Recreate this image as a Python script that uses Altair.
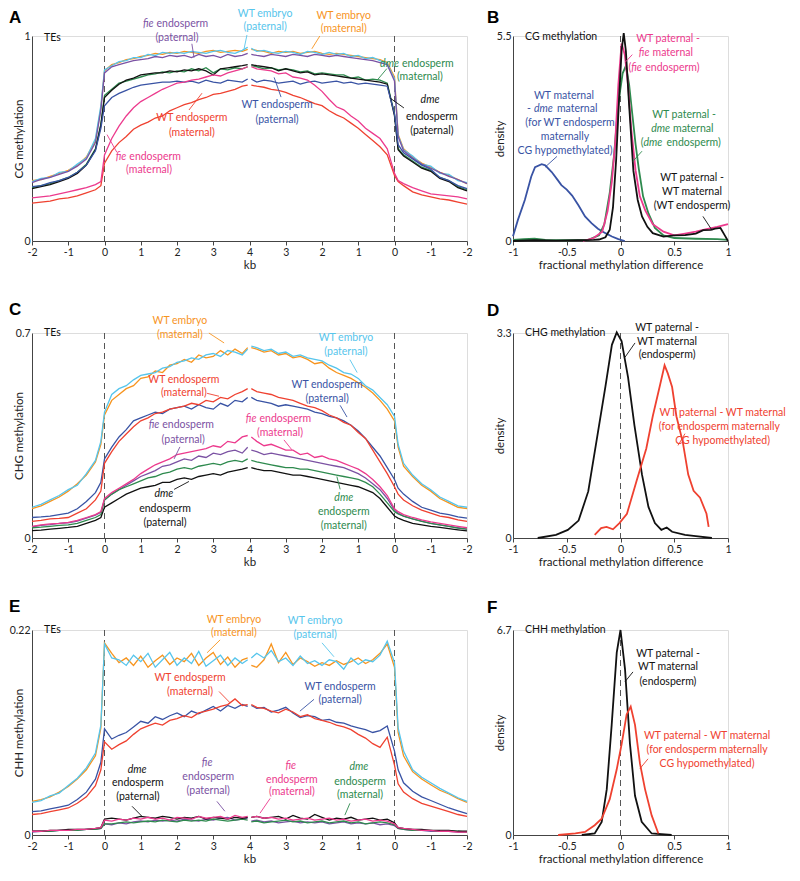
import altair as alt
import pandas as pd

FONT = "Lato"
FS = 10.5

# ---------------- x grid of the metaplots (kb), same for 5' half and 3' half ----------------
XS = [-2, -1.75, -1.5, -1.25, -1, -0.75, -0.5, -0.25, -0.1, 0, 0.2, 0.4, 0.6, 0.8, 1.0, 1.2, 1.4,
      1.6, 1.8, 2.0, 2.2, 2.4, 2.6, 2.8, 3.0, 3.2, 3.4, 3.6, 3.8, 3.95]
POS_TICKS = list(range(13))
TICK_LABELS = ["-2", "-1", "0", "1", "2", "3", "4", "3", "2", "1", "0", "-1", "-2"]
DENS_TICKS = [-1, -0.5, 0, 0.5, 1]

SERIES = ["WT embryo (maternal)", "WT embryo (paternal)", "fie endosperm (paternal)",
          "dme endosperm (maternal)", "dme endosperm (paternal)", "WT endosperm (paternal)",
          "WT endosperm (maternal)", "fie endosperm (maternal)"]
ORANGE = "#F7941E"
LBLUE = "#56C5EC"
PURPLE = "#7B52A3"
GREEN = "#2E8A4E"
BLACK = "#111111"
BLUE = "#3953A4"
RED = "#EF4130"
PINK = "#EC3A8D"
COLORS = [ORANGE, LBLUE, PURPLE, GREEN, BLACK, BLUE, RED, PINK]

# ---------------- A: CG methylation ----------------
CG_EMB_MAT_L = [0.295,0.30,0.315,0.33,0.345,0.37,0.41,0.49,0.65,0.83,0.86,0.87,0.885,0.89,0.90,0.905,0.915,0.91,0.92,0.915,0.925,0.92,0.915,0.925,0.93,0.92,0.925,0.93,0.925,0.935]
CG_EMB_PAT_L = [0.29,0.305,0.31,0.335,0.34,0.375,0.405,0.50,0.66,0.835,0.855,0.875,0.88,0.895,0.895,0.91,0.905,0.92,0.915,0.92,0.915,0.925,0.92,0.915,0.925,0.93,0.92,0.915,0.93,0.945]
CG_FIE_PAT_L = [0.285,0.30,0.31,0.325,0.34,0.365,0.40,0.48,0.64,0.82,0.85,0.86,0.87,0.88,0.885,0.89,0.90,0.895,0.905,0.90,0.905,0.895,0.91,0.90,0.905,0.895,0.91,0.90,0.905,0.915]
CG_DME_MAT_L = [0.26,0.27,0.28,0.295,0.31,0.335,0.375,0.45,0.57,0.71,0.74,0.77,0.78,0.79,0.80,0.81,0.815,0.825,0.82,0.83,0.825,0.84,0.83,0.845,0.82,0.84,0.835,0.845,0.84,0.85]
CG_DME_PAT_L = [0.255,0.265,0.275,0.29,0.305,0.33,0.37,0.445,0.565,0.70,0.735,0.765,0.785,0.795,0.81,0.815,0.82,0.82,0.83,0.825,0.835,0.83,0.84,0.83,0.81,0.84,0.845,0.85,0.855,0.86]
CG_END_PAT_L = [0.265,0.27,0.285,0.295,0.31,0.335,0.37,0.44,0.55,0.66,0.70,0.72,0.735,0.75,0.76,0.765,0.77,0.775,0.775,0.78,0.775,0.78,0.77,0.785,0.775,0.77,0.785,0.78,0.775,0.79]
CG_END_MAT_L = [0.185,0.19,0.195,0.205,0.21,0.22,0.235,0.25,0.27,0.38,0.44,0.48,0.51,0.545,0.565,0.58,0.60,0.61,0.635,0.65,0.665,0.675,0.69,0.70,0.715,0.72,0.73,0.74,0.755,0.76]
CG_FIE_MAT_L = [0.21,0.215,0.22,0.23,0.24,0.25,0.26,0.275,0.29,0.42,0.50,0.56,0.61,0.65,0.68,0.70,0.72,0.74,0.755,0.77,0.775,0.785,0.79,0.80,0.81,0.805,0.82,0.83,0.84,0.85]

CG_EMB_MAT_R = [0.28,0.30,0.32,0.335,0.36,0.38,0.41,0.45,0.52,0.80,0.87,0.885,0.89,0.895,0.90,0.905,0.91,0.915,0.91,0.915,0.925,0.92,0.915,0.925,0.92,0.925,0.915,0.925,0.93,0.935]
CG_EMB_PAT_R = [0.285,0.295,0.325,0.33,0.365,0.375,0.415,0.445,0.515,0.79,0.865,0.88,0.895,0.89,0.905,0.90,0.915,0.91,0.92,0.91,0.92,0.925,0.91,0.92,0.925,0.915,0.92,0.93,0.925,0.94]
CG_FIE_PAT_R = [0.28,0.30,0.315,0.335,0.355,0.375,0.405,0.44,0.51,0.78,0.86,0.87,0.88,0.885,0.89,0.895,0.90,0.905,0.90,0.905,0.91,0.90,0.905,0.91,0.90,0.905,0.91,0.90,0.905,0.91]
CG_DME_MAT_R = [0.25,0.265,0.295,0.31,0.345,0.36,0.39,0.42,0.45,0.62,0.77,0.785,0.79,0.785,0.80,0.795,0.81,0.81,0.815,0.82,0.815,0.83,0.825,0.835,0.84,0.835,0.845,0.84,0.85,0.855]
CG_DME_PAT_R = [0.245,0.26,0.29,0.305,0.34,0.355,0.385,0.415,0.445,0.61,0.765,0.775,0.78,0.785,0.79,0.795,0.80,0.805,0.81,0.815,0.81,0.825,0.82,0.83,0.84,0.83,0.845,0.85,0.855,0.86]
CG_END_PAT_R = [0.255,0.27,0.295,0.31,0.35,0.37,0.40,0.43,0.47,0.62,0.755,0.76,0.765,0.77,0.765,0.775,0.77,0.78,0.775,0.77,0.78,0.775,0.765,0.78,0.775,0.77,0.78,0.785,0.775,0.79]
CG_END_MAT_R = [0.18,0.19,0.20,0.205,0.215,0.225,0.24,0.27,0.29,0.32,0.42,0.46,0.49,0.52,0.55,0.575,0.60,0.615,0.635,0.66,0.67,0.685,0.70,0.71,0.725,0.735,0.74,0.75,0.755,0.76]
CG_FIE_MAT_R = [0.205,0.215,0.22,0.225,0.23,0.245,0.26,0.28,0.295,0.33,0.45,0.50,0.525,0.55,0.585,0.61,0.64,0.655,0.69,0.73,0.76,0.785,0.795,0.80,0.82,0.815,0.83,0.835,0.84,0.85]

# ---------------- C: CHG methylation ----------------
CHG_EMB_MAT_L = [0.10,0.11,0.125,0.14,0.16,0.185,0.215,0.26,0.32,0.42,0.47,0.49,0.51,0.52,0.545,0.55,0.57,0.565,0.59,0.595,0.61,0.60,0.625,0.615,0.62,0.64,0.625,0.645,0.63,0.65]
CHG_EMB_PAT_L = [0.105,0.115,0.13,0.145,0.165,0.18,0.22,0.265,0.33,0.43,0.49,0.51,0.52,0.54,0.555,0.56,0.565,0.58,0.585,0.60,0.605,0.615,0.61,0.625,0.63,0.62,0.64,0.635,0.625,0.645]
CHG_FIE_PAT_L = [0.038,0.043,0.046,0.05,0.052,0.058,0.068,0.078,0.088,0.13,0.15,0.165,0.18,0.195,0.21,0.22,0.23,0.245,0.25,0.26,0.27,0.265,0.28,0.275,0.29,0.285,0.295,0.30,0.29,0.31]
CHG_DME_MAT_L = [0.035,0.037,0.04,0.043,0.045,0.05,0.06,0.07,0.08,0.13,0.15,0.165,0.175,0.185,0.195,0.205,0.21,0.22,0.225,0.235,0.24,0.235,0.245,0.25,0.255,0.25,0.26,0.265,0.26,0.27]
CHG_DME_PAT_L = [0.025,0.027,0.03,0.033,0.036,0.04,0.05,0.06,0.07,0.105,0.12,0.135,0.15,0.16,0.17,0.175,0.18,0.19,0.19,0.20,0.205,0.20,0.21,0.215,0.22,0.215,0.225,0.23,0.235,0.24]
CHG_END_PAT_L = [0.07,0.072,0.075,0.08,0.085,0.10,0.125,0.155,0.19,0.27,0.31,0.345,0.37,0.40,0.41,0.42,0.43,0.425,0.44,0.445,0.45,0.44,0.455,0.445,0.44,0.46,0.45,0.47,0.465,0.48]
CHG_END_MAT_L = [0.057,0.06,0.065,0.067,0.07,0.085,0.10,0.13,0.16,0.255,0.295,0.33,0.355,0.38,0.40,0.41,0.425,0.43,0.44,0.445,0.45,0.46,0.455,0.47,0.465,0.48,0.475,0.49,0.50,0.51]
CHG_FIE_MAT_L = [0.04,0.045,0.048,0.05,0.053,0.06,0.07,0.08,0.09,0.135,0.155,0.17,0.185,0.20,0.22,0.235,0.25,0.26,0.27,0.285,0.29,0.295,0.30,0.305,0.315,0.31,0.33,0.325,0.345,0.35]

CHG_EMB_MAT_R = [0.10,0.105,0.12,0.135,0.16,0.18,0.21,0.245,0.31,0.40,0.44,0.47,0.495,0.515,0.53,0.545,0.555,0.565,0.58,0.60,0.595,0.61,0.62,0.615,0.63,0.625,0.64,0.635,0.645,0.65]
CHG_EMB_PAT_R = [0.105,0.11,0.125,0.14,0.165,0.185,0.215,0.255,0.32,0.415,0.455,0.48,0.505,0.52,0.545,0.56,0.565,0.58,0.59,0.605,0.61,0.615,0.625,0.62,0.635,0.63,0.645,0.64,0.65,0.655]
CHG_FIE_PAT_R = [0.03,0.035,0.04,0.045,0.05,0.058,0.065,0.075,0.085,0.095,0.135,0.165,0.185,0.205,0.22,0.23,0.24,0.245,0.25,0.255,0.26,0.265,0.27,0.275,0.28,0.285,0.29,0.285,0.295,0.30]
CHG_DME_MAT_R = [0.03,0.034,0.04,0.045,0.05,0.057,0.065,0.075,0.082,0.09,0.12,0.15,0.175,0.19,0.20,0.205,0.21,0.215,0.22,0.225,0.23,0.235,0.235,0.24,0.24,0.245,0.25,0.255,0.26,0.265]
CHG_DME_PAT_R = [0.024,0.028,0.032,0.036,0.04,0.045,0.05,0.06,0.068,0.075,0.105,0.135,0.155,0.165,0.175,0.18,0.185,0.19,0.195,0.20,0.205,0.21,0.215,0.215,0.22,0.225,0.23,0.23,0.235,0.24]
CHG_END_PAT_R = [0.068,0.072,0.08,0.085,0.095,0.105,0.125,0.15,0.17,0.20,0.24,0.28,0.31,0.34,0.365,0.385,0.40,0.41,0.415,0.425,0.43,0.44,0.445,0.45,0.455,0.45,0.46,0.465,0.47,0.48]
CHG_END_MAT_R = [0.057,0.062,0.07,0.075,0.085,0.095,0.11,0.13,0.15,0.175,0.22,0.26,0.30,0.34,0.36,0.385,0.395,0.41,0.42,0.435,0.445,0.45,0.46,0.47,0.475,0.48,0.49,0.495,0.50,0.51]
CHG_FIE_MAT_R = [0.035,0.04,0.045,0.05,0.055,0.062,0.07,0.08,0.09,0.10,0.145,0.175,0.20,0.22,0.235,0.245,0.255,0.265,0.27,0.28,0.275,0.29,0.285,0.30,0.30,0.31,0.32,0.315,0.33,0.345]

# ---------------- E: CHH methylation ----------------
CHH_EMB_MAT_L = [0.036,0.038,0.041,0.046,0.052,0.06,0.07,0.085,0.115,0.206,0.195,0.185,0.19,0.182,0.192,0.18,0.187,0.193,0.183,0.19,0.186,0.195,0.182,0.19,0.196,0.183,0.191,0.18,0.188,0.19]
CHH_EMB_PAT_L = [0.035,0.037,0.042,0.045,0.053,0.061,0.072,0.088,0.118,0.205,0.19,0.188,0.182,0.193,0.186,0.195,0.18,0.188,0.196,0.182,0.19,0.184,0.197,0.181,0.187,0.193,0.182,0.19,0.184,0.188]
CHH_FIE_PAT_L = [0.003,0.004,0.004,0.005,0.005,0.005,0.006,0.006,0.007,0.012,0.011,0.013,0.012,0.014,0.015,0.014,0.016,0.015,0.016,0.015,0.017,0.016,0.015,0.017,0.016,0.018,0.019,0.016,0.017,0.018]
CHH_DME_MAT_L = [0.004,0.004,0.004,0.005,0.005,0.005,0.006,0.006,0.007,0.012,0.012,0.013,0.014,0.013,0.014,0.015,0.014,0.016,0.015,0.014,0.016,0.015,0.016,0.015,0.017,0.016,0.015,0.016,0.017,0.016]
CHH_DME_PAT_L = [0.004,0.004,0.005,0.005,0.006,0.006,0.006,0.007,0.008,0.017,0.018,0.017,0.016,0.018,0.02,0.019,0.018,0.02,0.019,0.017,0.019,0.018,0.02,0.017,0.019,0.018,0.017,0.019,0.018,0.019]
CHH_END_PAT_L = [0.025,0.026,0.028,0.03,0.032,0.038,0.046,0.06,0.078,0.114,0.103,0.107,0.11,0.116,0.122,0.12,0.127,0.124,0.128,0.131,0.127,0.133,0.13,0.134,0.138,0.133,0.139,0.136,0.14,0.138]
CHH_END_MAT_L = [0.022,0.023,0.025,0.027,0.029,0.034,0.041,0.053,0.07,0.10,0.092,0.097,0.101,0.108,0.114,0.117,0.12,0.118,0.123,0.125,0.128,0.126,0.131,0.133,0.135,0.138,0.14,0.146,0.139,0.14]
CHH_FIE_MAT_L = [0.004,0.004,0.005,0.005,0.005,0.006,0.006,0.007,0.008,0.016,0.015,0.017,0.016,0.018,0.017,0.019,0.017,0.018,0.016,0.019,0.018,0.017,0.02,0.018,0.019,0.02,0.017,0.021,0.019,0.02]

CHH_EMB_MAT_R = [0.035,0.039,0.044,0.048,0.054,0.06,0.068,0.085,0.11,0.18,0.205,0.195,0.188,0.184,0.19,0.186,0.183,0.187,0.182,0.185,0.181,0.186,0.19,0.183,0.196,0.185,0.205,0.188,0.18,0.182]
CHH_EMB_PAT_R = [0.036,0.04,0.045,0.05,0.056,0.062,0.07,0.09,0.115,0.185,0.208,0.193,0.186,0.188,0.183,0.19,0.178,0.186,0.188,0.182,0.187,0.184,0.192,0.182,0.19,0.186,0.198,0.19,0.195,0.19]
CHH_FIE_PAT_R = [0.003,0.003,0.004,0.004,0.004,0.005,0.005,0.006,0.007,0.01,0.012,0.011,0.013,0.012,0.013,0.012,0.014,0.013,0.012,0.014,0.013,0.014,0.013,0.015,0.014,0.013,0.015,0.014,0.016,0.015]
CHH_DME_MAT_R = [0.003,0.004,0.004,0.004,0.005,0.005,0.005,0.006,0.007,0.011,0.013,0.014,0.013,0.012,0.014,0.013,0.015,0.014,0.013,0.015,0.014,0.013,0.015,0.014,0.016,0.015,0.014,0.013,0.015,0.014]
CHH_DME_PAT_R = [0.004,0.004,0.005,0.005,0.005,0.006,0.006,0.007,0.008,0.013,0.017,0.016,0.018,0.017,0.016,0.019,0.017,0.018,0.016,0.019,0.022,0.017,0.018,0.021,0.017,0.02,0.019,0.018,0.02,0.019]
CHH_END_PAT_R = [0.023,0.026,0.029,0.033,0.037,0.041,0.047,0.056,0.07,0.09,0.117,0.112,0.11,0.113,0.115,0.117,0.12,0.121,0.124,0.123,0.127,0.128,0.126,0.131,0.137,0.134,0.132,0.137,0.136,0.139]
CHH_END_MAT_R = [0.02,0.022,0.025,0.028,0.031,0.034,0.039,0.046,0.055,0.075,0.105,0.094,0.098,0.104,0.108,0.113,0.116,0.118,0.121,0.123,0.125,0.129,0.127,0.132,0.135,0.131,0.133,0.136,0.137,0.14]
CHH_FIE_MAT_R = [0.003,0.003,0.004,0.004,0.005,0.005,0.006,0.007,0.008,0.012,0.015,0.016,0.015,0.017,0.016,0.015,0.017,0.016,0.018,0.017,0.016,0.018,0.017,0.016,0.018,0.017,0.019,0.018,0.02,0.019]

# ---------------- B, D, F: density of fractional methylation differences ----------------
B_BLUE_X = [-1,-0.955,-0.89,-0.83,-0.795,-0.733,-0.70,-0.64,-0.58,-0.55,-0.5,-0.45,-0.39,-0.33,-0.27,-0.21,-0.14,-0.08,-0.02,0.04]
B_BLUE_Y = [0.13,0.56,1.1,1.73,1.98,2.06,2.03,1.85,1.62,1.5,1.38,1.22,0.95,0.66,0.48,0.33,0.21,0.12,0.05,0.0]
B_PINK_X = [-0.35,-0.25,-0.17,-0.12,-0.08,-0.05,-0.02,0.01,0.04,0.07,0.1,0.14,0.18,0.23,0.3,0.4,0.5,0.6,0.7,0.8,0.9,1.0]
B_PINK_Y = [0.0,0.08,0.25,0.8,1.6,2.6,4.2,5.3,5.0,4.2,3.0,1.9,1.2,0.82,0.45,0.25,0.15,0.2,0.25,0.32,0.38,0.45]
B_GREEN_X = [-1,-0.9,-0.8,-0.7,-0.5,-0.3,-0.2,-0.15,-0.1,-0.06,-0.02,0.02,0.05,0.08,0.11,0.14,0.17,0.21,0.26,0.32,0.4,0.5,0.7,0.9,1.0]
B_GREEN_Y = [0.03,0.05,0.06,0.03,0.02,0.03,0.15,0.45,1.3,2.3,3.7,4.5,4.7,4.2,3.4,2.6,1.94,1.2,0.74,0.35,0.15,0.08,0.06,0.05,0.03]
B_BLACK_X = [-1,-0.8,-0.6,-0.4,-0.25,-0.2,-0.14,-0.1,-0.07,-0.04,-0.01,0.01,0.03,0.05,0.08,0.12,0.16,0.2,0.25,0.3,0.4,0.5,0.6,0.7,0.77,0.84,0.88,0.93,0.97,1.0]
B_BLACK_Y = [0.0,0.02,0.01,0.02,0.03,0.04,0.1,0.3,0.9,2.2,4.0,5.1,5.58,5.1,3.65,1.88,1.1,0.66,0.38,0.21,0.12,0.15,0.16,0.2,0.29,0.3,0.33,0.35,0.15,0.0]

D_BLACK_X = [-0.77,-0.6,-0.49,-0.39,-0.3,-0.21,-0.14,-0.08,-0.035,0.01,0.07,0.13,0.2,0.26,0.32,0.38,0.43,0.48,0.6,0.7,0.85]
D_BLACK_Y = [0.0,0.05,0.13,0.28,0.75,1.7,2.44,3.11,3.31,3.17,2.59,1.81,1.02,0.5,0.24,0.13,0.17,0.1,0.05,0.03,0.0]
D_RED_X = [-0.24,-0.18,-0.13,-0.07,-0.01,0.06,0.15,0.24,0.3,0.37,0.41,0.44,0.48,0.52,0.58,0.63,0.68,0.74,0.8,0.82]
D_RED_Y = [0.05,0.16,0.18,0.14,0.24,0.39,0.92,1.44,1.96,2.48,2.78,2.65,2.43,1.96,1.54,1.02,0.76,0.65,0.39,0.18]

F_BLACK_X = [-0.36,-0.24,-0.175,-0.128,-0.082,-0.035,0.0,0.042,0.088,0.135,0.197,0.29,0.476]
F_BLACK_Y = [0.0,0.05,0.43,1.49,3.6,5.96,6.7,5.42,2.98,1.28,0.43,0.05,0.0]
F_RED_X = [-0.58,-0.42,-0.33,-0.24,-0.175,-0.1,-0.036,0.011,0.057,0.095,0.135,0.181,0.228,0.29,0.352]
F_RED_Y = [0.0,0.05,0.1,0.32,0.53,1.17,2.13,2.98,3.94,4.2,3.6,2.34,1.5,0.64,0.05]


def T(text, x, y, c, it=False, align="center", dx=0):
    return (text, x, y, c, it, align, dx)


# annotations (text, x, y, colour, italic, align, dx) in data coordinates
A_ANN = [
    T("fie", 3.38, 1.06, PURPLE, True, "right", -1), T("endosperm", 3.38, 1.06, PURPLE, False, "left", 2),
    T("(paternal)", 4.0, 0.99, PURPLE),
    T("WT embryo", 6.43, 1.105, LBLUE), T("(paternal)", 6.43, 1.043, LBLUE),
    T("WT embryo", 8.6, 1.10, ORANGE), T("(maternal)", 8.6, 1.034, ORANGE),
    T("dme", 10.15, 0.865, GREEN, True, "right", -1), T("endosperm", 10.15, 0.865, GREEN, False, "left", 2),
    T("(maternal)", 10.7, 0.798, GREEN),
    T("dme", 10.98, 0.688, BLACK, True), T("endosperm", 11.03, 0.606, BLACK), T("(paternal)", 11.03, 0.538, BLACK),
    T("WT endosperm", 6.76, 0.663, BLUE), T("(paternal)", 6.76, 0.591, BLUE),
    T("WT endosperm", 4.41, 0.601, RED), T("(maternal)", 4.41, 0.529, RED),
    T("fie", 2.63, 0.409, PINK, True, "right", -1), T("endosperm", 2.63, 0.409, PINK, False, "left", 2),
    T("(maternal)", 3.23, 0.346, PINK),
    T("TEs", 0.33, 0.99, BLACK, False, "left"),
]
A_LEAD = [(4.41, 0.962, 4.47, 0.894, PURPLE), (5.93, 1.005, 5.85, 0.9375, LBLUE), (7.94, 1.0, 7.72, 0.9375, ORANGE),
          (9.79, 0.841, 9.52, 0.784, GREEN), (10.26, 0.649, 9.88, 0.697, BLACK), (6.87, 0.702, 6.68, 0.798, BLUE),
          (4.33, 0.639, 4.69, 0.721, RED), (2.34, 0.433, 2.07, 0.519, PINK)]

C_ANN = [
    T("WT embryo", 4.08, 0.741, ORANGE), T("(maternal)", 4.08, 0.693, ORANGE),
    T("WT embryo", 8.66, 0.683, LBLUE), T("(paternal)", 8.66, 0.636, LBLUE),
    T("WT endosperm", 4.19, 0.541, RED), T("(maternal)", 4.19, 0.494, RED),
    T("WT endosperm", 8.14, 0.524, BLUE), T("(paternal)", 8.14, 0.473, BLUE),
    T("fie", 3.54, 0.386, PURPLE, True, "right", -1), T("endosperm", 3.54, 0.386, PURPLE, False, "left", 2),
    T("(paternal)", 4.17, 0.335, PURPLE),
    T("fie", 6.22, 0.406, PINK, True, "right", -1), T("endosperm", 6.22, 0.406, PINK, False, "left", 2),
    T("(maternal)", 6.84, 0.358, PINK),
    T("dme", 3.64, 0.149, BLACK, True), T("endosperm", 3.67, 0.098, BLACK), T("(paternal)", 3.67, 0.051, BLACK),
    T("dme", 8.6, 0.135, GREEN, True), T("endosperm", 8.6, 0.088, GREEN), T("(maternal)", 8.6, 0.041, GREEN),
    T("TEs", 0.33, 0.7, BLACK, False, "left"),
]
C_LEAD = [(4.88, 0.70, 5.3, 0.666, ORANGE), (8.77, 0.609, 8.97, 0.565, LBLUE), (4.83, 0.494, 5.16, 0.484, RED),
          (8.5, 0.453, 8.69, 0.413, BLUE), (4.08, 0.311, 3.92, 0.27, PURPLE), (6.95, 0.335, 7.17, 0.301, PINK),
          (3.92, 0.166, 4.33, 0.193, BLACK), (8.5, 0.166, 8.41, 0.21, GREEN)]

E_ANN = [
    T("WT embryo", 5.57, 0.2306, ORANGE), T("(maternal)", 5.57, 0.2168, ORANGE),
    T("WT embryo", 7.81, 0.2296, LBLUE), T("(paternal)", 7.81, 0.2147, LBLUE),
    T("WT endosperm", 4.36, 0.168, RED), T("(maternal)", 4.36, 0.153, RED),
    T("WT endosperm", 8.5, 0.159, BLUE), T("(paternal)", 8.5, 0.1445, BLUE),
    T("dme", 2.9, 0.0701, BLACK, True), T("endosperm", 2.92, 0.0553, BLACK), T("(paternal)", 2.92, 0.0404, BLACK),
    T("fie", 4.83, 0.0776, PURPLE, True), T("endosperm", 4.86, 0.0627, PURPLE), T("(paternal)", 4.86, 0.0468, PURPLE),
    T("fie", 7.14, 0.0744, PINK, True), T("endosperm", 7.17, 0.0595, PINK), T("(maternal)", 7.17, 0.0457, PINK),
    T("dme", 9.02, 0.0733, GREEN, True), T("endosperm", 9.05, 0.0574, GREEN), T("(maternal)", 9.05, 0.0425, GREEN),
    T("TEs", 0.33, 0.22, BLACK, False, "left"),
]
E_LEAD = [(5.19, 0.2094, 4.83, 0.1956, ORANGE), (8.0, 0.2062, 8.33, 0.1913, LBLUE), (5.16, 0.154, 5.46, 0.142, RED),
          (7.78, 0.1456, 7.39, 0.1329, BLUE), (2.76, 0.0308, 3.03, 0.0202, BLACK), (5.1, 0.0361, 5.32, 0.0255, PURPLE),
          (6.57, 0.0393, 6.29, 0.0234, PINK), (8.77, 0.034, 8.63, 0.0213, GREEN)]

B_ANN = [
    T("CG methylation", -0.888, 5.47, BLACK, False, "left"),
    T("WT paternal -", 0.442, 5.42, PINK),
    T("fie", 0.279, 5.05, PINK, True, "right", -1), T("maternal", 0.279, 5.05, PINK, False, "left", 2),
    T("(", 0.10, 4.65, PINK, False, "right", 0), T("fie", 0.10, 4.65, PINK, True, "left", 0),
    T("endosperm)", 0.10, 4.65, PINK, False, "left", 14),
    T("WT paternal -", 0.591, 3.38, GREEN),
    T("dme", 0.47, 3.01, GREEN, True, "right", -1), T("maternal", 0.47, 3.01, GREEN, False, "left", 2),
    T("(", 0.214, 2.64, GREEN, False, "right", 0), T("dme", 0.214, 2.64, GREEN, True, "left", 0),
    T("endosperm)", 0.214, 2.64, GREEN, False, "left", 23),
    T("WT maternal", -0.526, 3.89, BLUE),
    T("-", -0.805, 3.54, BLUE, False, "right", -3), T("dme", -0.805, 3.54, BLUE, True, "left", 0),
    T("maternal", -0.805, 3.54, BLUE, False, "left", 23),
    T("(for WT endosperm", -0.47, 3.17, BLUE), T("maternally", -0.516, 2.80, BLUE),
    T("CG hypomethylated)", -0.516, 2.41, BLUE),
    T("WT paternal -", 0.665, 1.69, BLACK), T("WT maternal", 0.665, 1.32, BLACK), T("(WT endosperm)", 0.665, 0.95, BLACK),
]
B_LEAD = [(0.11, 5.0, 0.045, 4.8, PINK), (0.2, 2.41, 0.116, 2.14, GREEN), (-0.591, 2.27, -0.702, 1.98, BLUE),
          (0.767, 0.66, 0.851, 0.29, BLACK)]

D_ANN = [
    T("CHG methylation", -0.888, 3.3, BLACK, False, "left"),
    T("WT paternal -", 0.433, 3.38, BLACK), T("WT maternal", 0.433, 3.16, BLACK), T("(endosperm)", 0.433, 2.94, BLACK),
    T("WT paternal - WT maternal", 0.95, 2.01, RED), T("(for endosperm maternally", 0.92, 1.78, RED),
    T("CG hypomethylated)", 0.95, 1.56, RED),
]
D_LEAD = [(0.6, 1.68, 0.535, 1.49, RED), (0.135, 3.14, 0.042, 2.91, BLACK)]

F_ANN = [
    T("CHH methylation", -0.888, 6.7, BLACK, False, "left"),
    T("WT paternal -", 0.442, 5.93, BLACK), T("WT maternal", 0.442, 5.49, BLACK), T("(endosperm)", 0.442, 5.01, BLACK),
    T("WT paternal - WT maternal", 0.805, 3.22, RED), T("(for endosperm maternally", 0.805, 2.78, RED),
    T("CG hypomethylated)", 0.805, 2.33, RED),
]
F_LEAD = [(0.116, 5.33, 0.042, 5.01, BLACK), (0.256, 2.49, 0.181, 2.17, RED)]

AX = dict(grid=False, domainColor="#444444", tickColor="#444444", labelColor="#222222", titleColor="#222222",
          labelFont=FONT, titleFont=FONT, labelFontSize=10.5, titleFontSize=11.5, titleFontWeight="normal",
          domainWidth=1)

LW, LH = 435, 205
RW = 215


def axes(xdom, ydom, xvals, xexpr, xtitle, ytitle):
    xs = alt.Scale(domain=xdom, nice=False, zero=False)
    ys = alt.Scale(domain=ydom, nice=False, zero=False)
    xaxis = alt.Axis(values=xvals, labelExpr=xexpr, title=xtitle, tickSize=4, labelPadding=2, titlePadding=2,
                     labelFlush=False, labelOverlap=False, **AX)
    yaxis = alt.Axis(values=[ydom[0], ydom[1]], labelExpr="'' + datum.value", title=ytitle, ticks=False,
                     tickSize=0, labelPadding=2, titleX=-13, titleY=LH / 2, titleBaseline="middle",
                     labelFlush=False, **AX)
    return (alt.X("pos:Q", scale=xs, axis=xaxis), alt.Y("val:Q", scale=ys, axis=yaxis))


def deco_layers(ann, leaders, X, Y, letter, ly, lx):
    layers = []
    ld = pd.DataFrame(leaders, columns=["pos", "val", "pos2", "val2", "c"])
    layers.append(alt.Chart(ld).mark_rule(strokeWidth=0.9).encode(
        x=X, y=Y, x2="pos2:Q", y2="val2:Q", color=alt.Color("c:N", scale=None)))
    df = pd.DataFrame(ann, columns=["text", "pos", "val", "c", "it", "align", "dx"])
    for (it, align, dx), sub in df.groupby(["it", "align", "dx"]):
        layers.append(alt.Chart(sub).mark_text(
            font=FONT, fontSize=FS, fontStyle="italic" if it else "normal", align=str(align),
            baseline="middle", dx=float(dx)).encode(
            x=X, y=Y, text="text:N", color=alt.Color("c:N", scale=None)))
    layers.append(alt.Chart(pd.DataFrame({"t": [letter]})).mark_text(
        font="Liberation Sans", fontSize=17, fontWeight="bold", align="left", baseline="middle",
        color="#000000").encode(text="t:N", x=alt.value(lx), y=alt.value(ly)))
    return layers


LABEL_EXPR = "[" + ",".join("'%s'" % t for t in TICK_LABELS) + "][datum.value]"
SERIES_COLOR = dict(zip(SERIES, COLORS))


def meta_panel(lefts, rights, ymax, ytitle, ann, leaders, letter, ly):
    rows = []
    for s, L, R in zip(SERIES, lefts, rights):
        for x, v in zip(XS, L):
            rows.append({"series": s, "half": "5p", "pos": x + 2, "val": v, "c": SERIES_COLOR[s]})
        for x, v in zip(XS, R):
            rows.append({"series": s, "half": "3p", "pos": 10 - x, "val": v, "c": SERIES_COLOR[s]})
    df = pd.DataFrame(rows)
    X, Y = axes([0, 12], [0, ymax], POS_TICKS, LABEL_EXPR, "kb", ytitle)
    dashes = alt.Chart(pd.DataFrame({"pos": [2, 10]})).mark_rule(
        strokeDash=[6, 4], color="#444444", strokeWidth=0.9).encode(x=X)
    lines = alt.Chart(df).mark_line(strokeWidth=1.3).encode(
        x=X, y=Y, color=alt.Color("c:N", scale=None), detail=["series:N", "half:N"])
    return alt.layer(dashes, lines, *deco_layers(ann, leaders, X, Y, letter, ly, -23)).properties(
        width=LW, height=LH)


def dens_panel(curves, ymax, ann, leaders, letter, ly):
    rows = []
    for name, col, xs, ys in curves:
        for x, v in zip(xs, ys):
            rows.append({"series": name, "pos": x, "val": v, "c": col})
    df = pd.DataFrame(rows)
    X, Y = axes([-1, 1], [0, ymax], DENS_TICKS, "'' + datum.value", "fractional methylation difference", "density")
    dash = alt.Chart(pd.DataFrame({"pos": [0]})).mark_rule(
        strokeDash=[6, 4], color="#444444", strokeWidth=0.9).encode(x=X)
    lines = alt.Chart(df).mark_line(strokeWidth=1.8).encode(
        x=X, y=Y, color=alt.Color("c:N", scale=None), detail="series:N")
    return alt.layer(dash, lines, *deco_layers(ann, leaders, X, Y, letter, ly, -26)).properties(
        width=RW, height=LH)


A = meta_panel([CG_EMB_MAT_L, CG_EMB_PAT_L, CG_FIE_PAT_L, CG_DME_MAT_L, CG_DME_PAT_L, CG_END_PAT_L, CG_END_MAT_L, CG_FIE_MAT_L],
               [CG_EMB_MAT_R, CG_EMB_PAT_R, CG_FIE_PAT_R, CG_DME_MAT_R, CG_DME_PAT_R, CG_END_PAT_R, CG_END_MAT_R, CG_FIE_MAT_R],
               1, "CG methylation", A_ANN, A_LEAD, "A", -18)
C = meta_panel([CHG_EMB_MAT_L, CHG_EMB_PAT_L, CHG_FIE_PAT_L, CHG_DME_MAT_L, CHG_DME_PAT_L, CHG_END_PAT_L, CHG_END_MAT_L, CHG_FIE_MAT_L],
               [CHG_EMB_MAT_R, CHG_EMB_PAT_R, CHG_FIE_PAT_R, CHG_DME_MAT_R, CHG_DME_PAT_R, CHG_END_PAT_R, CHG_END_MAT_R, CHG_FIE_MAT_R],
               0.7, "CHG methylation", C_ANN, C_LEAD, "C", -23)
E = meta_panel([CHH_EMB_MAT_L, CHH_EMB_PAT_L, CHH_FIE_PAT_L, CHH_DME_MAT_L, CHH_DME_PAT_L, CHH_END_PAT_L, CHH_END_MAT_L, CHH_FIE_MAT_L],
               [CHH_EMB_MAT_R, CHH_EMB_PAT_R, CHH_FIE_PAT_R, CHH_DME_MAT_R, CHH_DME_PAT_R, CHH_END_PAT_R, CHH_END_MAT_R, CHH_FIE_MAT_R],
               0.22, "CHH methylation", E_ANN, E_LEAD, "E", -23)

B = dens_panel([("WT maternal - dme maternal", BLUE, B_BLUE_X, B_BLUE_Y),
                ("WT paternal - dme maternal", GREEN, B_GREEN_X, B_GREEN_Y),
                ("WT paternal - fie maternal", PINK, B_PINK_X, B_PINK_Y),
                ("WT paternal - WT maternal", BLACK, B_BLACK_X, B_BLACK_Y)],
               5.5, B_ANN, B_LEAD, "B", -18)
D = dens_panel([("WT paternal - WT maternal (endosperm)", BLACK, D_BLACK_X, D_BLACK_Y),
                ("WT paternal - WT maternal (hypomethylated)", RED, D_RED_X, D_RED_Y)],
               3.3, D_ANN, D_LEAD, "D", -22)
F = dens_panel([("WT paternal - WT maternal (endosperm)", BLACK, F_BLACK_X, F_BLACK_Y),
                ("WT paternal - WT maternal (hypomethylated)", RED, F_RED_X, F_RED_Y)],
               6.7, F_ANN, F_LEAD, "F", -22)

chart = alt.concat(A, B, C, D, E, F, columns=2, spacing=alt.RowColnumber(row=92, column=46),
                   bounds="flush").properties(
    padding=0, background="#ffffff"
).configure_view(strokeWidth=0).configure(font=FONT)

chart.save("out.html", embed_options={"renderer": "svg", "actions": False})
